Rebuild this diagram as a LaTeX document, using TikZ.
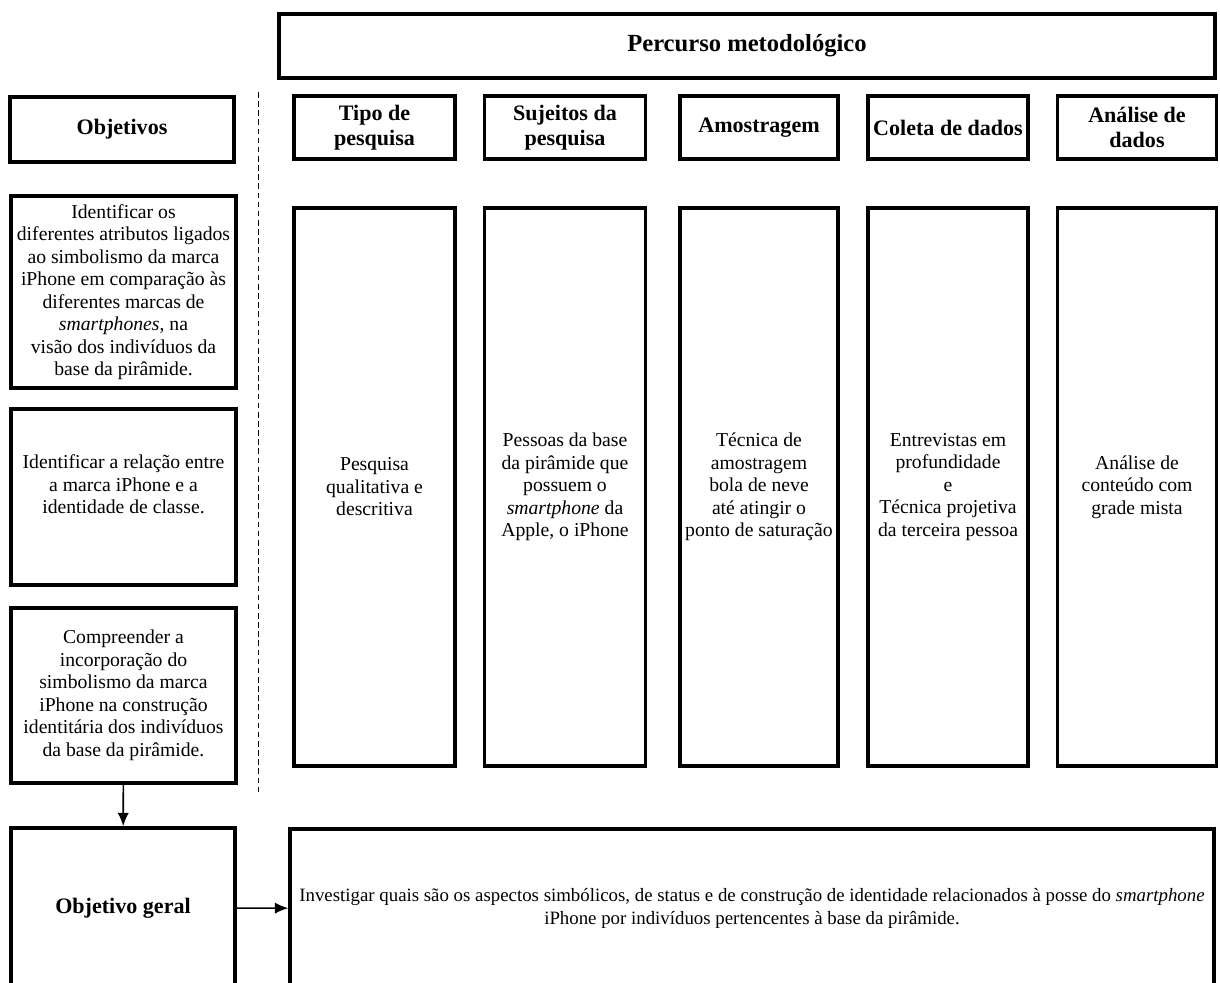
\documentclass[tikz,border=0pt]{standalone}
\usepackage{fontspec}
\setmainfont{Liberation Serif}
\usepackage{tikz}
\usetikzlibrary{arrows,arrows.meta,shapes}
\newcommand{\bodyfont}{\fontsize{14}{16}\selectfont}
\newcommand{\widefont}{\fontsize{13.4}{16}\selectfont}
\newcommand{\headfont}{\fontsize{15.7}{18}\selectfont\bfseries}
\newcommand{\titlefont}{\fontsize{17.5}{20}\selectfont\bfseries}
\tikzstyle{blk}=[draw=black, line width=2.5pt, inner sep=1pt, align=center,
                text=black]
\tikzstyle{txt}=[blk, font=\bodyfont]
\tikzstyle{hd}=[blk, font=\headfont]
\tikzstyle{link}=[-{Latex[length=9.5pt,width=8pt]}, line width=1.1pt]
\tikzstyle{sep}=[draw, line width=0.7pt, dash pattern=on 4pt off 2.5pt]
\tikzset{sz/.style 2 args={minimum width=#1*0.025cm, minimum height=#2*0.025cm}}

\begin{document}
\begin{tikzpicture}[x=0.025cm, y=-0.025cm]
\useasboundingbox (0,0) rectangle (1220,983);
% head row
\node[hd, font=\titlefont, sz={936}{64}] (perc) at (747,46) {Percurso metodológico};
\node[hd, sz={224}{65}] (obj) at (122,129.5) {Objetivos};
\node[hd, sz={161}{63}] (tipo) at (374.5,127.5) {Tipo de\\pesquisa};
\node[hd, sz={161}{63}] (suj) at (565,127.5) {Sujeitos da\\pesquisa};
\node[hd, sz={158}{63}] (amo) at (759,127.5) {Amostragem};
\node[hd, sz={160}{63}] (col) at (948,127.5) {Coleta de dados};
\node[hd, sz={159}{63}] (ana) at (1137,127.5) {Análise de\\dados};
% columns
\node[txt, sz={161}{558}] (tipoc) at (374.5,487) {Pesquisa\\qualitativa e\\descritiva};
\node[txt, sz={161}{558}] (sujc) at (565,487) {Pessoas da base\\da pirâmide que\\possuem o\\\textit{smartphone} da\\Apple, o iPhone};
\node[txt, sz={158}{558}] (amoc) at (759,487) {Técnica de\\amostragem\\bola de neve\\até atingir o\\ponto de saturação};
\node[txt, sz={160}{558}] (colc) at (948,487) {Entrevistas em\\profundidade\\e\\Técnica projetiva\\da terceira pessoa};
\node[txt, sz={159}{558}] (anac) at (1137,487) {Análise de\\conteúdo com\\grade mista};
% objetivos
\node[txt, sz={225}{192}] (o1) at (123.5,292) {Identificar os\\diferentes atributos ligados\\ao simbolismo da marca\\iPhone em comparação às\\diferentes marcas de\\\textit{smartphones}, na\\visão dos indivíduos da\\base da pirâmide.};
\node[txt, sz={225}{176}, text depth=18pt] (o2) at (123.5,497) {Identificar a relação entre\\a marca iPhone e a\\identidade de classe.};
\node[txt, sz={225}{175}] (o3) at (123.5,695.5) {Compreender a\\incorporação do\\simbolismo da marca\\iPhone na construção\\identitária dos indivíduos\\da base da pirâmide.};
\node[hd, sz={224}{160}] (og) at (123,908) {Objetivo geral};
\node[txt, font=\widefont, sz={924}{159}] (inv) at (752,908.5) {Investigar quais são os aspectos simbólicos, de status e de construção de identidade relacionados à posse do \textit{smartphone}\\iPhone por indivíduos pertencentes à base da pirâmide.};
% separator
\coordinate (dtop) at (258,92);
\coordinate (dbot) at (258,792);
\path[sep] (dtop) -- (dbot);
\path[link]
  (o3) edge (og)
  (og) edge (inv);
\end{tikzpicture}
\end{document}
